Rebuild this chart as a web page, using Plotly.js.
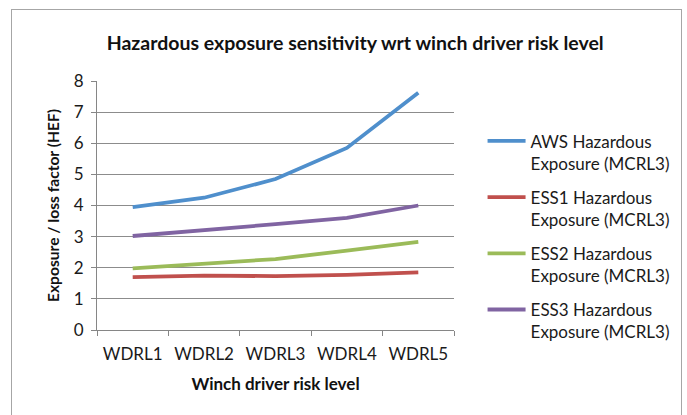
<!DOCTYPE html>
<html><head><meta charset="utf-8">
<script src="https://cdn.plot.ly/plotly-3.0.1.min.js"></script>
<style>
html,body{margin:0;padding:0;background:#fff;overflow:hidden}
#frame{position:absolute;left:11px;top:9px;width:671px;height:420px;border:1px solid #a6a6a6;box-sizing:border-box}
#chart{position:absolute;left:0;top:0;width:687px;height:415px}
</style></head>
<body>
<div id="frame"></div>
<div id="chart"></div>
<script>
const categories = ["WDRL1","WDRL2","WDRL3","WDRL4","WDRL5"];
const awsValues  = [3.95, 4.25, 4.85, 5.85, 7.62];
const ess1Values = [1.70, 1.75, 1.73, 1.77, 1.85];
const ess2Values = [1.98, 2.12, 2.28, 2.55, 2.83];
const ess3Values = [3.02, 3.20, 3.40, 3.60, 4.00];
const seriesNames = ["AWS Hazardous<br>Exposure (MCRL3)","ESS1 Hazardous<br>Exposure (MCRL3)","ESS2 Hazardous<br>Exposure (MCRL3)","ESS3 Hazardous<br>Exposure (MCRL3)"];
const seriesColors = ["#4f8fcc","#c0504d","#9bbb59","#8064a2"];
const yTicks = [0,1,2,3,4,5,6,7,8];

const vals = [awsValues, ess1Values, ess2Values, ess3Values];
const traces = vals.map((v,i)=>({
  x: categories, y: v, type:'scatter', mode:'lines',
  name: seriesNames[i], legendgroup: 'g'+i,
  line:{color:seriesColors[i], width:3.8}
}));
const fontFam = 'Lato, "Open Sans", sans-serif';
const layout = {
  width:687, height:415,
  paper_bgcolor:'rgba(0,0,0,0)', plot_bgcolor:'rgba(0,0,0,0)',
  margin:{l:97, r:230, t:81, b:85},
  font:{family:fontFam, color:'#1a1a1a', size:17},
  title:{text:'<b>Hazardous exposure sensitivity wrt winch driver risk level</b>', x:0.517, xanchor:'center', y:0.896, yanchor:'middle', font:{size:19.5, color:'#111'}},
  xaxis:{type:'category', range:[-0.5,4.5], tickson:'boundaries', ticks:'outside', ticklen:5, tickcolor:'#868686',
         showline:true, linecolor:'#868686', linewidth:1, showgrid:false, ticklabelstandoff:9,
         tickfont:{size:17}, title:{text:'<b>Winch driver risk level</b>', font:{size:17, color:'#111'}, standoff:14}},
  yaxis:{range:[0,8], tickvals:yTicks, ticks:'outside', ticklen:5, tickcolor:'#868686',
         showline:true, linecolor:'#868686', showgrid:true, gridcolor:'#8c8c8c', gridwidth:1,
         zeroline:false, tickfont:{size:17}, ticklabelstandoff:4,
         title:{text:'<b>Exposure / loss factor (HEF)</b>', font:{size:15.6, color:'#111'}, standoff:10}},
  legend:{x:1.08, xanchor:'left', y:0.83, yanchor:'top', valign:'top', tracegroupgap:9,
          font:{size:17, color:'#1a1a1a'}, itemwidth:38, bgcolor:'rgba(0,0,0,0)'},
  showlegend:true
};
Plotly.newPlot('chart', traces, layout, {displayModeBar:false, staticPlot:true});
</script>
</body></html>
